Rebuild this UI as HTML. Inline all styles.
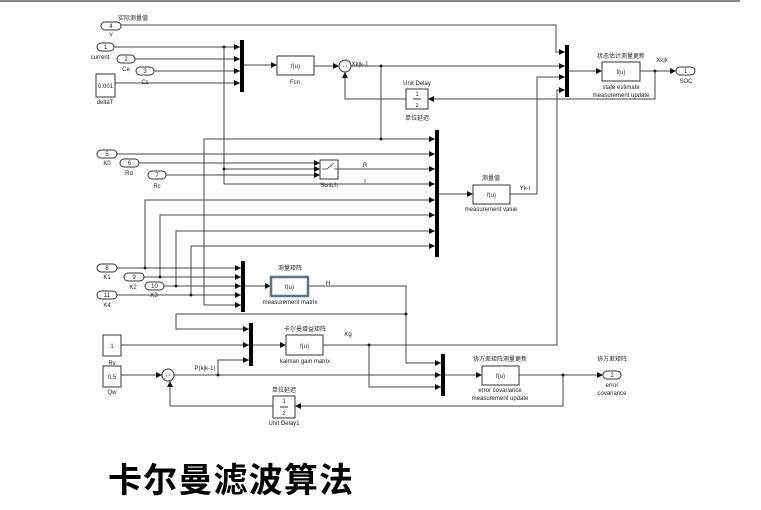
<!DOCTYPE html>
<html><head><meta charset="utf-8"><style>
html,body{margin:0;padding:0;background:#fff;}
svg{display:block;}
text{font-family:"Liberation Sans","Noto Sans CJK SC",sans-serif;fill:#222;}
</style></head><body>
<svg width="761" height="510" viewBox="0 0 761 510" xmlns="http://www.w3.org/2000/svg">
<defs>
<marker id="a" viewBox="0 0 6 6" refX="6" refY="3" markerWidth="6" markerHeight="6" orient="auto" markerUnits="userSpaceOnUse"><path d="M0,0L6,3L0,6z" fill="#111"/></marker>
</defs>
<line x1="0" y1="1" x2="740" y2="1" stroke="#888" stroke-width="2"/>
<g stroke="#444" stroke-width="1" fill="none">
<polyline points="121,25 556,25 556,52 565,52" marker-end="url(#a)"/>
<line x1="114" y1="47" x2="240" y2="47" marker-end="url(#a)"/>
<line x1="135" y1="59" x2="240" y2="59" marker-end="url(#a)"/>
<line x1="154" y1="71" x2="240" y2="71" marker-end="url(#a)"/>
<line x1="115" y1="83" x2="240" y2="83" marker-end="url(#a)"/>
<polyline points="224,47 224,184 435,184" marker-end="url(#a)"/>
<line x1="224" y1="169" x2="320" y2="169" marker-end="url(#a)"/>
<line x1="244" y1="65" x2="277" y2="65" marker-end="url(#a)"/>
<line x1="314" y1="66" x2="339" y2="66" marker-end="url(#a)"/>
<line x1="351" y1="66" x2="565" y2="66" marker-end="url(#a)"/>
<polyline points="381,66 381,139"/>
<polyline points="204,305 204,139 435,139" marker-end="url(#a)"/>
<line x1="204" y1="305" x2="241" y2="305" marker-end="url(#a)"/>
<polyline points="569,71 602,71" marker-end="url(#a)"/>
<line x1="640" y1="71" x2="676" y2="71" marker-end="url(#a)"/>
<polyline points="655,71 655,99 428,99" marker-end="url(#a)"/>
<polyline points="406,99 345,99 345,72" marker-end="url(#a)"/>
<line x1="117" y1="154" x2="435" y2="154" marker-end="url(#a)"/>
<line x1="139" y1="163" x2="320" y2="163" marker-end="url(#a)"/>
<line x1="166" y1="175" x2="320" y2="175" marker-end="url(#a)"/>
<line x1="338" y1="169" x2="435" y2="169" marker-end="url(#a)"/>
<polyline points="145,268 145,200 435,200" marker-end="url(#a)"/>
<polyline points="160,277 160,215 435,215" marker-end="url(#a)"/>
<polyline points="176,286 176,231 435,231" marker-end="url(#a)"/>
<polyline points="191,295 191,246 435,246" marker-end="url(#a)"/>
<line x1="439" y1="194" x2="473" y2="194" marker-end="url(#a)"/>
<polyline points="510,194 537,194 537,77 565,77" marker-end="url(#a)"/>
<line x1="117" y1="268" x2="241" y2="268" marker-end="url(#a)"/>
<line x1="144" y1="277" x2="241" y2="277" marker-end="url(#a)"/>
<line x1="164" y1="286" x2="241" y2="286" marker-end="url(#a)"/>
<line x1="117" y1="295" x2="241" y2="295" marker-end="url(#a)"/>
<line x1="245" y1="286" x2="271" y2="286" marker-end="url(#a)"/>
<polyline points="308,286 406,286 406,363 441,363" marker-end="url(#a)"/>
<polyline points="406,314 176,314 176,329 249,329" marker-end="url(#a)"/>
<line x1="121" y1="345" x2="249" y2="345" marker-end="url(#a)"/>
<line x1="253" y1="345" x2="286" y2="345" marker-end="url(#a)"/>
<polyline points="323,345 557,345 557,90 565,90" marker-end="url(#a)"/>
<polyline points="369,345 369,387 441,387" marker-end="url(#a)"/>
<line x1="121" y1="375" x2="162" y2="375" marker-end="url(#a)"/>
<line x1="174" y1="375" x2="441" y2="375" marker-end="url(#a)"/>
<polyline points="218,375 218,360 249,360" marker-end="url(#a)"/>
<line x1="445" y1="375" x2="482" y2="375" marker-end="url(#a)"/>
<line x1="519" y1="375" x2="603" y2="375" marker-end="url(#a)"/>
<polyline points="563,375 563,406 295,406" marker-end="url(#a)"/>
<polyline points="273,406 170,406 170,381" marker-end="url(#a)"/>
</g>
<g fill="#222">
<circle cx="224" cy="47" r="1.5"/><circle cx="224" cy="169" r="1.5"/>
<circle cx="381" cy="66" r="1.5"/><circle cx="381" cy="139" r="1.5"/>
<circle cx="655" cy="71" r="1.5"/>
<circle cx="145" cy="268" r="1.5"/><circle cx="160" cy="277" r="1.5"/>
<circle cx="176" cy="286" r="1.5"/><circle cx="191" cy="295" r="1.5"/>
<circle cx="406" cy="314" r="1.5"/><circle cx="369" cy="345" r="1.5"/>
<circle cx="218" cy="375" r="1.5"/><circle cx="563" cy="375" r="1.5"/>
</g>
<g fill="#000">
<rect x="240" y="40" width="4" height="52"/>
<rect x="565" y="45" width="4" height="52"/>
<rect x="435" y="130" width="4" height="127"/>
<rect x="241" y="261" width="4" height="51"/>
<rect x="249" y="323" width="4" height="43"/>
<rect x="441" y="354" width="4" height="42"/>
</g>
<g stroke="#333" stroke-width="1" fill="#fff">
<rect x="101" y="22" width="20" height="8" rx="4"/>
<rect x="97" y="43" width="17" height="8" rx="4"/>
<rect x="117" y="55" width="18" height="8" rx="4"/>
<rect x="136" y="67" width="18" height="8" rx="4"/>
<rect x="97" y="150" width="20" height="8" rx="4"/>
<rect x="120" y="159" width="19" height="8" rx="4"/>
<rect x="148" y="171" width="18" height="8" rx="4"/>
<rect x="97" y="264" width="20" height="8" rx="4"/>
<rect x="124" y="273" width="20" height="8" rx="4"/>
<rect x="145" y="282" width="19" height="8" rx="4"/>
<rect x="97" y="291" width="20" height="8" rx="4"/>
<rect x="676" y="67" width="19" height="8" rx="4"/>
<rect x="603" y="371" width="18" height="8" rx="4"/>
<rect x="96" y="74" width="19" height="23"/>
<rect x="277" y="56" width="37" height="19"/>
<rect x="406" y="89" width="22" height="20"/>
<rect x="602" y="62" width="38" height="19"/>
<rect x="320" y="160" width="18" height="19"/>
<rect x="473" y="185" width="37" height="19"/>
<rect x="271" y="277" width="37" height="19" stroke="#8ab4e0" stroke-width="3"/>
<rect x="103" y="335" width="18" height="21"/>
<rect x="286" y="335" width="37" height="20"/>
<rect x="103" y="366" width="18" height="21"/>
<rect x="482" y="366" width="37" height="19"/>
<rect x="273" y="396" width="22" height="22"/>
<circle cx="345" cy="66" r="6"/>
<circle cx="168" cy="375" r="6"/>
</g>
<rect x="271" y="277" width="37" height="19" fill="none" stroke="#333" stroke-width="1"/>
<line x1="413" y1="99" x2="421" y2="99" stroke="#333"/>
<line x1="280" y1="407" x2="288" y2="407" stroke="#333"/>
<polyline points="322,169 327,169 334,163" stroke="#333" fill="none" stroke-width="0.8"/>
<line x1="334" y1="169" x2="338" y2="169" stroke="#333" stroke-width="0.8"/>
<g font-size="6" text-anchor="middle">
<text x="111" y="28">4</text><text x="105.5" y="49">1</text><text x="126" y="61">2</text><text x="145" y="73">3</text>
<text x="107" y="156">5</text><text x="129.5" y="165">6</text><text x="157" y="177">7</text>
<text x="107" y="270">8</text><text x="134" y="279">9</text><text x="154.5" y="288">10</text><text x="107" y="297">11</text>
<text x="685.5" y="73">1</text><text x="612" y="377">2</text>
<text x="105.5" y="88">0.001</text>
<text x="295.5" y="68">f(u)</text><text x="621" y="74">f(u)</text><text x="491.5" y="197">f(u)</text>
<text x="289.5" y="289">f(u)</text><text x="304.5" y="348">f(u)</text><text x="500.5" y="378">f(u)</text>
<text x="417" y="96">1</text><text x="417" y="107">z</text>
<text x="284" y="403">1</text><text x="284" y="415">z</text>
<text x="112" y="348">1</text><text x="112" y="379">0.5</text>
<text x="345" y="68" font-size="4">+ +</text><text x="168" y="377" font-size="4">+ +</text>
<text x="111" y="37">Y</text><text x="100" y="59">current</text><text x="126" y="71">Ce</text><text x="145" y="84">Cs</text>
<text x="105" y="104">deltaT</text><text x="295" y="84">Fcn</text>
<text x="417" y="85">Unit Delay</text><text x="417" y="120">单位延迟</text>
<text x="621" y="58">状态估计测量更新</text><text x="621" y="89">state estimate</text><text x="621" y="97">measurement update</text>
<text x="686" y="83">SOC</text><text x="662" y="62">Xk|k</text><text x="360" y="66">Xk|k-1</text>
<text x="107" y="165">K0</text><text x="129" y="175">Rd</text><text x="157" y="188">Rc</text>
<text x="329" y="187">Switch</text><text x="365" y="167">R</text><text x="365" y="183">I</text>
<text x="491" y="180">测量值</text><text x="491" y="211">measurement value</text><text x="525" y="190">Yk-I</text>
<text x="107" y="279">K1</text><text x="133" y="289">K2</text><text x="154" y="297">K3</text><text x="107" y="307">K4</text>
<text x="290" y="270">测量矩阵</text><text x="290" y="304">measurement matrix</text><text x="328" y="285">H</text>
<text x="305" y="331">卡尔曼增益矩阵</text><text x="305" y="363">kalman gain matrix</text><text x="348" y="336">Kg</text>
<text x="112" y="365">Rv</text><text x="112" y="394">Qw</text><text x="205" y="370">P(k|k-1)</text>
<text x="500" y="361">协方差矩阵测量更新</text><text x="500" y="392">error covariance</text><text x="500" y="400">measurement update</text>
<text x="612" y="361">协方差矩阵</text><text x="612" y="387">error</text><text x="612" y="395">covariance</text>
<text x="284" y="392">单位延迟</text><text x="284" y="425">Unit Delay1</text>
<text x="133" y="20">实际测量值</text>
</g>
<text x="108" y="492" font-size="34" font-weight="bold" style="fill:#000" textLength="245">卡尔曼滤波算法</text>
</svg>
</body></html>
